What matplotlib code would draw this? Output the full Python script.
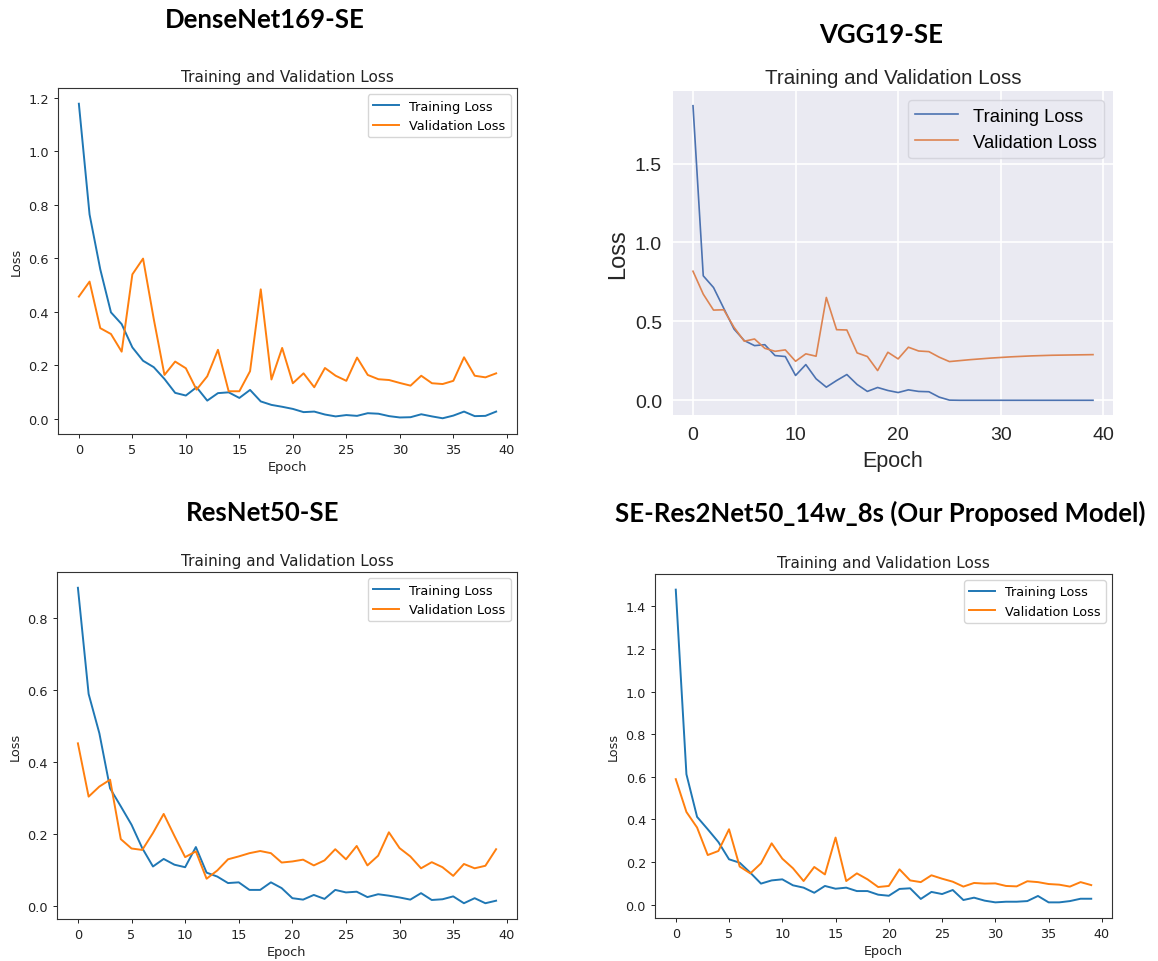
import matplotlib
matplotlib.use("Agg")
import matplotlib.pyplot as plt

W, H = 1158, 962

epochs = list(range(40))

# DenseNet169-SE
dense_train = [1.178, 0.764, 0.559, 0.398, 0.354, 0.267, 0.217, 0.193, 0.149, 0.097,
               0.087, 0.118, 0.068, 0.096, 0.099, 0.078, 0.108, 0.065, 0.052, 0.045,
               0.037, 0.025, 0.027, 0.016, 0.009, 0.014, 0.011, 0.021, 0.019, 0.010,
               0.005, 0.006, 0.017, 0.009, 0.002, 0.012, 0.027, 0.010, 0.011, 0.027]
dense_val = [0.457, 0.513, 0.339, 0.317, 0.251, 0.540, 0.599, 0.373, 0.164, 0.214,
             0.189, 0.109, 0.159, 0.258, 0.103, 0.103, 0.178, 0.484, 0.147, 0.265,
             0.133, 0.170, 0.118, 0.190, 0.161, 0.142, 0.229, 0.164, 0.148, 0.145,
             0.134, 0.124, 0.161, 0.133, 0.130, 0.142, 0.230, 0.161, 0.155, 0.170]

# VGG19-SE
vgg_train = [1.866, 0.789, 0.715, 0.583, 0.452, 0.379, 0.347, 0.353, 0.284, 0.278,
             0.158, 0.227, 0.137, 0.084, 0.126, 0.164, 0.101, 0.057, 0.082, 0.063,
             0.050, 0.067, 0.057, 0.055, 0.021, 0.002, 0.001, 0.001, 0.001, 0.001,
             0.001, 0.001, 0.001, 0.001, 0.001, 0.001, 0.001, 0.001, 0.001, 0.001]
vgg_val = [0.818, 0.673, 0.572, 0.574, 0.463, 0.375, 0.389, 0.330, 0.311, 0.320,
           0.248, 0.295, 0.280, 0.652, 0.448, 0.446, 0.301, 0.278, 0.189, 0.305,
           0.263, 0.337, 0.313, 0.309, 0.274, 0.246, 0.252, 0.258, 0.263, 0.268,
           0.272, 0.276, 0.279, 0.282, 0.284, 0.286, 0.287, 0.288, 0.289, 0.290]

# ResNet50-SE
res_train = [0.885, 0.590, 0.481, 0.328, 0.278, 0.227, 0.162, 0.111, 0.132, 0.116,
             0.109, 0.165, 0.094, 0.083, 0.065, 0.067, 0.046, 0.046, 0.067, 0.051,
             0.023, 0.019, 0.032, 0.021, 0.046, 0.039, 0.041, 0.026, 0.034, 0.030,
             0.025, 0.019, 0.037, 0.018, 0.020, 0.028, 0.009, 0.023, 0.009, 0.016]
res_val = [0.453, 0.305, 0.333, 0.352, 0.187, 0.161, 0.157, 0.204, 0.257, 0.196,
           0.137, 0.153, 0.077, 0.100, 0.131, 0.139, 0.148, 0.154, 0.148, 0.122,
           0.125, 0.130, 0.114, 0.128, 0.159, 0.131, 0.168, 0.114, 0.141, 0.206,
           0.162, 0.139, 0.106, 0.123, 0.109, 0.085, 0.118, 0.106, 0.113, 0.159]

# SE-Res2Net50_14w_8s
r2_train = [1.478, 0.612, 0.412, 0.354, 0.294, 0.213, 0.197, 0.150, 0.099, 0.114,
            0.119, 0.091, 0.080, 0.056, 0.088, 0.075, 0.080, 0.064, 0.064, 0.047,
            0.042, 0.074, 0.077, 0.027, 0.060, 0.050, 0.069, 0.022, 0.033, 0.019,
            0.011, 0.014, 0.014, 0.017, 0.041, 0.011, 0.011, 0.017, 0.028, 0.028]
r2_val = [0.589, 0.435, 0.362, 0.233, 0.252, 0.354, 0.179, 0.147, 0.194, 0.288,
          0.216, 0.171, 0.111, 0.177, 0.142, 0.315, 0.111, 0.147, 0.119, 0.083,
          0.088, 0.166, 0.114, 0.106, 0.138, 0.122, 0.108, 0.085, 0.102, 0.099,
          0.100, 0.088, 0.086, 0.110, 0.106, 0.097, 0.094, 0.085, 0.106, 0.092]

headings = ["DenseNet169-SE", "VGG19-SE", "ResNet50-SE",
            "SE-Res2Net50_14w_8s (Our Proposed Model)"]


def rect(left, top, right, bottom):
    return [left / W, (H - bottom) / H, (right - left) / W, (bottom - top) / H]


fig = plt.figure(figsize=(W / 100, H / 100), dpi=100)


def plain_panel(box, train, val, fs, title_fs, yticks):
    ax = fig.add_axes(rect(*box))
    ax.plot(epochs, train, color="#1f77b4", lw=1.4, label="Training Loss")
    ax.plot(epochs, val, color="#ff7f0e", lw=1.4, label="Validation Loss")
    ax.set_xticks(range(0, 41, 5))
    ax.set_yticks(yticks)
    ax.tick_params(labelsize=fs, length=3, width=0.7, colors="#222222")
    for s in ax.spines.values():
        s.set_linewidth(0.8)
        s.set_color("#333333")
    ax.set_title("Training and Validation Loss", fontsize=title_fs, color="#222222", pad=5)
    ax.set_xlabel("Epoch", fontsize=fs, color="#222222", labelpad=3)
    ax.set_ylabel("Loss", fontsize=fs, color="#222222", labelpad=4)
    ax.legend(loc="upper right", fontsize=fs, handlelength=2.0)
    return ax


plain_panel((58, 89, 517, 435), dense_train, dense_val, 9.3, 11,
            [0.0, 0.2, 0.4, 0.6, 0.8, 1.0, 1.2])
plain_panel((57, 573, 517, 920), res_train, res_val, 9.3, 11,
            [0.0, 0.2, 0.4, 0.6, 0.8])
plain_panel((655, 575, 1112, 919), r2_train, r2_val, 9.2, 11,
            [0.0, 0.2, 0.4, 0.6, 0.8, 1.0, 1.2, 1.4])

# VGG19-SE panel drawn in seaborn darkgrid look
ax2 = fig.add_axes(rect(673, 92, 1113, 416))
ax2.set_facecolor("#EAEAF2")
ax2.set_axisbelow(True)
ax2.grid(True, color="white", lw=1.2)
for s in ax2.spines.values():
    s.set_visible(False)
ax2.plot(epochs, vgg_train, color="#4C72B0", lw=1.2, label="Training Loss")
ax2.plot(epochs, vgg_val, color="#DD8452", lw=1.2, label="Validation Loss")
ax2.set_xticks([0, 10, 20, 30, 40])
ax2.set_yticks([0.0, 0.5, 1.0, 1.5])
ax2.tick_params(length=0, labelsize=14, colors="#262626", pad=8)
for lbl in ax2.get_xticklabels() + ax2.get_yticklabels():
    lbl.set_family("Liberation Sans")
ax2.set_title("Training and Validation Loss", fontsize=14.8, color="#262626",
              family="Liberation Sans", pad=6)
ax2.set_xlabel("Epoch", fontsize=15.5, color="#262626", family="Liberation Sans", labelpad=5)
ax2.set_ylabel("Loss", fontsize=17, color="#262626", family="Liberation Sans", labelpad=4)
leg = ax2.legend(loc="upper right", prop={"family": "Liberation Sans", "size": 13.3},
                 facecolor="#EAEAF2", edgecolor="#D0D0D8", handlelength=2.3)

head_pos = [(265, 20), (881, 35), (263, 513), (880, 513)]
for (x, y), t in zip(head_pos, headings):
    fig.text(x / W, 1 - y / H, t, ha="center", va="center", fontsize=18.5,
             fontweight="bold", family="Lato")

fig.savefig("out.png", dpi=100)
